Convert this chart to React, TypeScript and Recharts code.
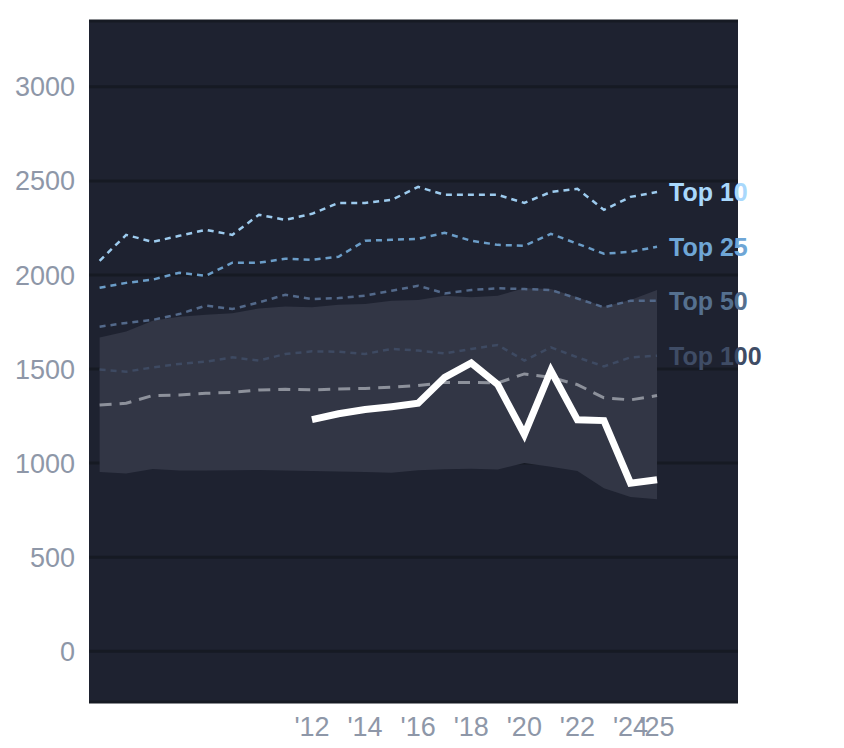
import { ComposedChart, Line, Area, XAxis, YAxis, CartesianGrid } from 'recharts';

const years = [2004, 2005, 2006, 2007, 2008, 2009, 2010, 2011, 2012, 2013, 2014, 2015, 2016, 2017, 2018, 2019, 2020, 2021, 2022, 2023, 2024, 2025];
const top10 = [2075, 2213, 2176, 2208, 2240, 2213, 2320, 2293, 2325, 2383, 2383, 2399, 2468, 2426, 2426, 2426, 2383, 2441, 2458, 2346, 2415, 2441];
const top25 = [1932, 1958, 1975, 2012, 1996, 2065, 2065, 2086, 2081, 2097, 2182, 2187, 2192, 2224, 2182, 2160, 2155, 2219, 2166, 2113, 2123, 2150];
const top50 = [1725, 1745, 1761, 1792, 1837, 1819, 1854, 1895, 1872, 1877, 1890, 1916, 1943, 1902, 1920, 1929, 1925, 1920, 1875, 1828, 1863, 1863];
const top100 = [1497, 1486, 1509, 1527, 1539, 1562, 1545, 1580, 1594, 1592, 1580, 1607, 1598, 1583, 1607, 1628, 1545, 1615, 1562, 1514, 1562, 1571];
const median = [1309, 1318, 1359, 1362, 1371, 1376, 1389, 1392, 1389, 1394, 1397, 1403, 1412, 1429, 1429, 1426, 1474, 1456, 1417, 1347, 1336, 1359];
const bandHigh = [1668, 1700, 1757, 1778, 1789, 1796, 1822, 1833, 1828, 1842, 1845, 1863, 1867, 1890, 1881, 1890, 1930, 1925, 1881, 1831, 1867, 1920];
const bandLow = [952, 945, 968, 961, 960, 962, 963, 960, 958, 955, 952, 948, 962, 967, 970, 966, 1000, 980, 958, 866, 820, 808];
const player = [null, null, null, null, null, null, null, null, 1231, 1262, 1285, 1300, 1318, 1456, 1532, 1417, 1152, 1492, 1230, 1226, 893, 911];

const xTicks = [2012, 2014, 2016, 2018, 2020, 2022, 2024, 2025];
const yTicks = [0, 500, 1000, 1500, 2000, 2500, 3000];

const data = years.map((year, i) => ({
  year,
  top10: top10[i],
  top25: top25[i],
  top50: top50[i],
  top100: top100[i],
  median: median[i],
  band: [bandLow[i], bandHigh[i]],
  player: player[i],
}));

const FONT = 'Arial, "Liberation Sans", sans-serif';

const endLabel = (text: string, color: string) => (props: any) => {
  if (props.index !== years.length - 1) return null;
  return (
    <text
      x={props.x + 12}
      y={props.y}
      dominantBaseline="central"
      fill={color}
      fontSize={25}
      fontWeight="bold"
      fontFamily={FONT}
    >
      {text}
    </text>
  );
};

export default function App() {
  return (
    <ComposedChart
      width={830}
      height={740}
      data={data}
      margin={{ top: 13, right: 100, bottom: 0, left: 0 }}
    >
      <CartesianGrid vertical={false} fill="#1e2230" stroke="#161a23" strokeWidth={3} />
      <XAxis
        dataKey="year"
        type="number"
        domain={[2003.6, 2028.05]}
        ticks={xTicks}
        interval={0}
        allowDataOverflow
        axisLine={false}
        tickLine={false}
        tickSize={0}
        tickMargin={15}
        height={46}
        tickFormatter={(y: number) => "'" + String(y).slice(2)}
        tick={{ fill: '#8e97a8', fontSize: 27, fontFamily: FONT }}
      />
      <YAxis
        type="number"
        domain={[-270, 3350]}
        ticks={yTicks}
        allowDataOverflow
        axisLine={false}
        tickLine={false}
        tickSize={0}
        tickMargin={14}
        width={81}
        tick={{ fill: '#8e97a8', fontSize: 27, fontFamily: FONT }}
      />
      <Area dataKey="band" stroke="none" fill="#323645" fillOpacity={1} isAnimationActive={false} />
      <Line dataKey="median" stroke="#8d919b" strokeWidth={3} strokeDasharray="12 8" dot={false} isAnimationActive={false} />
      <Line dataKey="top100" stroke="#3e4a62" strokeWidth={2.5} strokeDasharray="6 5" dot={false} isAnimationActive={false} label={endLabel('Top 100', '#3f4c65')} />
      <Line dataKey="top50" stroke="#53698a" strokeWidth={2.5} strokeDasharray="6 5" dot={false} isAnimationActive={false} label={endLabel('Top 50', '#55708f')} />
      <Line dataKey="top25" stroke="#6b9dc8" strokeWidth={2.5} strokeDasharray="6 5" dot={false} isAnimationActive={false} label={endLabel('Top 25', '#6fa6d6')} />
      <Line dataKey="top10" stroke="#9dcbee" strokeWidth={2.5} strokeDasharray="6 5" dot={false} isAnimationActive={false} label={endLabel('Top 10', '#a9d8fc')} />
      <Line dataKey="player" stroke="#ffffff" strokeWidth={7} dot={false} isAnimationActive={false} />
    </ComposedChart>
  );
}
